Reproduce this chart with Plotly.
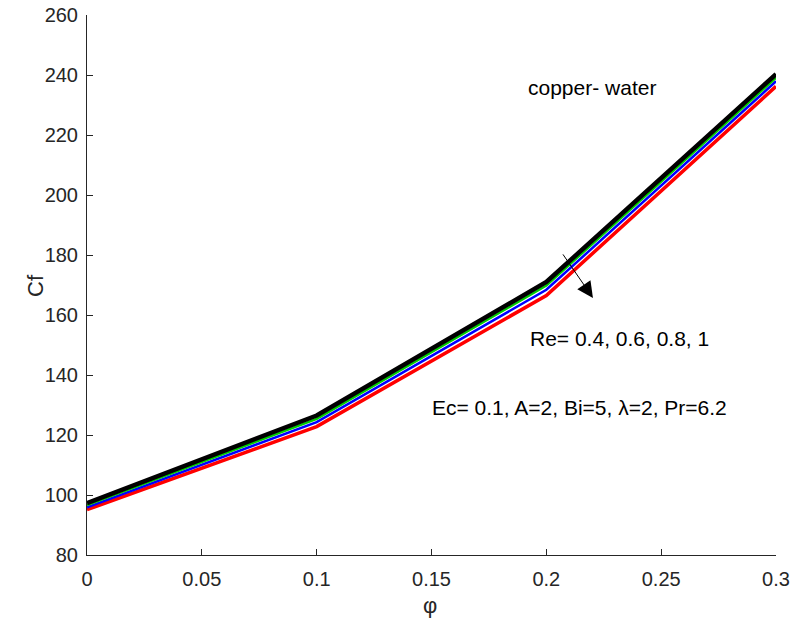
import plotly.graph_objects as go

phi = [0, 0.1, 0.2, 0.3]
cf_re04 = [97.3, 126.5, 171.0, 240.3]
cf_re06 = [96.6, 125.4, 169.8, 239.1]
cf_re08 = [95.9, 124.3, 168.4, 237.9]
cf_re10 = [95.1, 122.8, 166.5, 236.2]

series = [
    ("Re=1", cf_re10, "#ff0000", 3.5),
    ("Re=0.8", cf_re08, "#0000ff", 2.5),
    ("Re=0.6", cf_re06, "#00cc00", 2.5),
    ("Re=0.4", cf_re04, "#000000", 4.5),
]

fig = go.Figure()
for name, y, c, w in series:
    fig.add_trace(go.Scatter(x=phi, y=y, mode="lines", name=name,
                             line=dict(color=c, width=w)))

FONT = "Liberation Sans, Arial"
axis_common = dict(
    showgrid=False, zeroline=False, showline=True, linecolor="#262626",
    linewidth=1, ticks="inside", ticklen=6, tickcolor="#262626",
    tickfont=dict(family=FONT, size=20, color="#262626"),
    mirror=False, automargin=False, ticklabeloverflow="allow",
)

fig.update_layout(
    width=792, height=625,
    margin=dict(l=87, r=16, t=15, b=70),
    plot_bgcolor="white", paper_bgcolor="white",
    showlegend=False,
    font=dict(family=FONT, size=20, color="#262626"),
    xaxis=dict(range=[0, 0.3], tickvals=[0, 0.05, 0.1, 0.15, 0.2, 0.25, 0.3],
               ticktext=["0", "0.05", "0.1", "0.15", "0.2", "0.25", "0.3"],
               ticklabelstandoff=6, **axis_common),
    yaxis=dict(range=[80, 260], tickvals=list(range(80, 261, 20)),
               ticklabelstandoff=4, **axis_common),
)

# axis titles
fig.add_annotation(x=-0.0755, y=0.5, xref="paper", yref="paper", text="Cf",
                   textangle=-90, showarrow=False, xanchor="center", yanchor="middle",
                   font=dict(size=22, color="#262626"))
fig.add_annotation(x=0.498, y=-0.0926, xref="paper", yref="paper", text="φ",
                   showarrow=False, xanchor="center", yanchor="middle",
                   font=dict(size=22, color="#262626"))

fig.add_annotation(x=0.2203, y=165.7, ax=0.2068, ay=180.7, xref="x", yref="y",
                   axref="x", ayref="y", showarrow=True, arrowhead=2,
                   arrowsize=3.2, arrowwidth=1, arrowcolor="black", text="")
fig.add_annotation(x=0.22, y=235.7, xref="x", yref="y", text="copper- water",
                   showarrow=False, font=dict(size=21, color="black"))
fig.add_annotation(x=0.192, y=152.3, xref="x", yref="y", text="Re= 0.4, 0.6, 0.8, 1",
                   showarrow=False, xanchor="left", font=dict(size=21, color="black"))
fig.add_annotation(x=0.1495, y=129.3, xref="x", yref="y",
                   text="Ec= 0.1, A=2, Bi=5, λ=2, Pr=6.2",
                   showarrow=False, xanchor="left", font=dict(size=21, color="black"))

fig.write_html("out.html", config={"displayModeBar": False},
               post_script="document.body.style.margin='0';document.body.style.overflow='hidden';")
